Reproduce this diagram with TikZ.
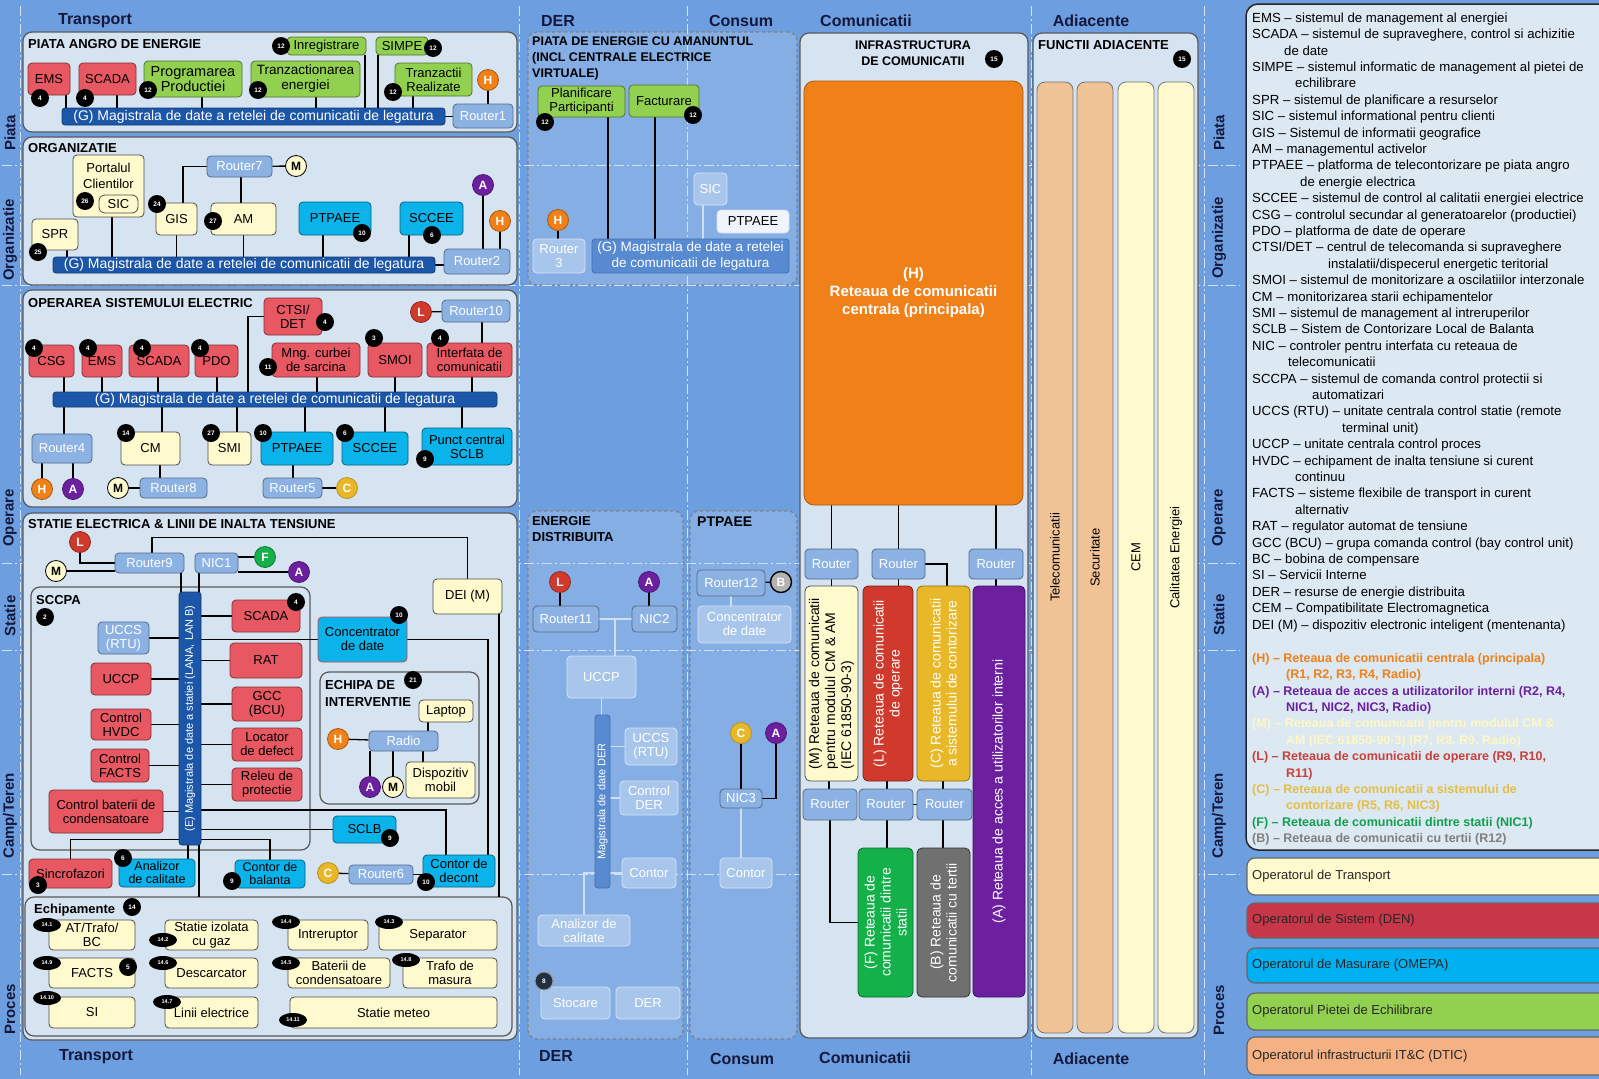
\documentclass[tikz,border=0pt]{standalone}
\usepackage{fontspec}
\setmainfont{Liberation Sans}
\usetikzlibrary{shapes.geometric}

\definecolor{cBg}{RGB}{108,158,224}
\definecolor{cPanel}{RGB}{214,227,240}
\definecolor{cMid}{RGB}{133,174,228}
\definecolor{cRed}{RGB}{232,88,98}
\definecolor{cGrn}{RGB}{146,208,80}
\definecolor{cCya}{RGB}{10,180,235}
\definecolor{cCrm}{RGB}{255,250,205}
\definecolor{cRtr}{RGB}{140,178,228}
\definecolor{cBus}{RGB}{28,86,168}
\definecolor{cMbus}{RGB}{88,138,210}
\definecolor{cFade}{RGB}{168,198,236}
\definecolor{cOrg}{RGB}{240,128,24}
\definecolor{cPur}{RGB}{108,32,160}
\definecolor{cLred}{RGB}{208,58,44}
\definecolor{cYel}{RGB}{232,184,40}
\definecolor{cFgrn}{RGB}{20,176,74}
\definecolor{cGray}{RGB}{112,112,112}
\definecolor{cPeach}{RGB}{240,195,150}
\definecolor{cLeg}{RGB}{220,232,242}
\definecolor{cHead}{RGB}{20,25,60}
\definecolor{cDen}{RGB}{200,54,74}
\definecolor{cOmepa}{RGB}{0,176,240}
\definecolor{cDtic}{RGB}{244,177,131}
\definecolor{lgM}{RGB}{255,248,196}
\definecolor{lgL}{RGB}{200,64,58}
\definecolor{lgC}{RGB}{228,190,70}
\definecolor{lgF}{RGB}{16,160,80}
\definecolor{lgB}{RGB}{128,128,128}

\pgfdeclarelayer{back}
\pgfdeclarelayer{wires}
\pgfsetlayers{back,wires,main}

\tikzset{
  sz/.style 2 args={minimum width=#1, minimum height=#2},
  panelbox/.style={draw=black!65, fill=cPanel, rounded corners=9pt, line width=1.2pt},
  dashbox/.style={draw=black!50, fill=cMid, dashed, rounded corners=9pt, line width=1.2pt},
  lane/.style={draw=white!70!cBg, line width=1pt, dash pattern=on 10pt off 3pt on 2pt off 3pt},
  blk/.style={draw, rounded corners=4pt, align=center, inner sep=1pt, line width=0.8pt,
    font=\fontsize{13}{14}\selectfont},
  redbox/.style={blk, fill=cRed, draw=cRed!55!black},
  grnbox/.style={blk, fill=cGrn, draw=cGrn!55!black},
  cyabox/.style={blk, fill=cCya, draw=cCya!55!black},
  crmbox/.style={blk, fill=cCrm, draw=black!70},
  rtrbox/.style={blk, fill=cRtr, draw=cRtr!60!black, text=white},
  fadebox/.style={blk, fill=cFade, draw=white!55!cFade, text=white},
  busbar/.style={draw=cBus!70!black, fill=cBus, text=white, rounded corners=3pt, inner sep=0pt,
    line width=0.8pt, align=center, font=\fontsize{14}{14}\selectfont},
  midbus/.style={busbar, fill=cMbus, draw=cMbus!80!black, font=\fontsize{13.5}{16}\selectfont},
  netbox/.style={blk, rotate=90, text=white, rounded corners=5pt, font=\fontsize{14}{16}\selectfont},
  colbox/.style={blk, rotate=90, draw=black!55, rounded corners=8pt, font=\fontsize{13}{13}\selectfont},
  badge/.style={circle, fill=black, text=white, inner sep=0pt, minimum size=18pt,
    font=\bfseries\fontsize{6.5}{6.5}\selectfont},
  ebadge/.style={ellipse, fill=black, text=white, inner sep=0pt, minimum width=28pt,
    minimum height=14pt, font=\bfseries\fontsize{5.5}{5.5}\selectfont},
  netc/.style={circle, inner sep=0pt, minimum size=21pt, line width=0.8pt, text=white,
    font=\bfseries\fontsize{12}{12}\selectfont},
  netH/.style={netc, fill=cOrg, draw=cOrg!70!black},
  netA/.style={netc, fill=cPur, draw=cPur!70!black},
  netM/.style={netc, fill=cCrm, draw=black, text=black},
  netL/.style={netc, fill=cLred, draw=cLred!70!black},
  netC/.style={netc, fill=cYel, draw=cYel!80!black},
  netF/.style={netc, fill=cFgrn, draw=cFgrn!70!black},
  netB/.style={netc, fill=black!30, draw=black, line width=1.4pt},
  ttl/.style={anchor=west, inner sep=0pt, align=left, font=\bfseries\fontsize{13}{16}\selectfont},
  txt/.style={inner sep=0pt, align=center, font=\fontsize{13}{16.5}\selectfont},
  head/.style={text=cHead, inner sep=0pt, font=\bfseries\fontsize{16}{16}\selectfont},
  rowlbl/.style={rotate=90, text=cHead, inner sep=0pt, font=\bfseries\fontsize{15}{15}\selectfont},
  legtxt/.style={anchor=north west, align=left, inner sep=0pt, font=\fontsize{13.2}{16.4}\selectfont},
  opbox/.style={draw=black!60, rounded corners=8pt, line width=1.2pt},
  optxt/.style={anchor=west, inner sep=0pt, text=black!85, font=\fontsize{13}{13}\selectfont},
  wire/.style={draw=black, line width=1.3pt},
  fwire/.style={draw=white!60!cMid, line width=1.3pt}
}

\begin{document}
\begin{tikzpicture}[x=1pt, y=-1pt]
  \useasboundingbox (0,0) rectangle (1599,1079);

  \begin{pgfonlayer}{back}
    \fill[cBg] (0,0) rectangle (1599,1079);
    \draw[dashbox] (528,32) rectangle (797,285);
    \draw[dashbox] (528,511) rectangle (683,1039);
    \draw[dashbox] (690,511) rectangle (797,1039);
    % benzi
    \draw[lane] (20,6) -- (20,1075);
    \draw[lane] (519,6) -- (519,1075);
    \draw[lane] (687,6) -- (687,1075);
    \draw[lane] (1031,6) -- (1031,1075);
    \draw[lane] (1204,6) -- (1204,1075);
    \draw[lane] (2,165) -- (1240,165);
    \draw[lane] (2,285) -- (1240,285);
    \draw[lane] (2,563) -- (1240,563);
    \draw[lane] (2,650) -- (1240,650);
    \draw[lane] (2,874) -- (1240,874);
    % panouri
    \draw[panelbox] (23,32) rectangle (517,132);
    \draw[panelbox] (23,137) rectangle (517,285);
    \draw[panelbox] (23,290) rectangle (517,507);
    \draw[panelbox] (23,513) rectangle (517,1040);
    \draw[panelbox] (31,587) rectangle (310,850);
    \draw[panelbox] (320,672) rectangle (479,804);
    \draw[panelbox] (25,897) rectangle (512,1036);
    \draw[panelbox] (800,33) rectangle (1028,1038);
    \draw[panelbox] (1033,33) rectangle (1198,1038);
    \draw[fill=cLeg, draw=black!85, line width=1.5pt, rounded corners=12pt] (1246,4) rectangle (1640,850);
    \draw[opbox, fill=cCrm] (1247,858) rectangle (1640,895);
    \draw[opbox, fill=cDen] (1247,903) rectangle (1640,938);
    \draw[opbox, fill=cOmepa] (1247,948) rectangle (1640,983);
    \draw[opbox, fill=cGrn] (1247,993) rectangle (1640,1030);
    \draw[opbox, fill=cDtic] (1247,1037) rectangle (1640,1075);
  \end{pgfonlayer}

  % titluri coloane si randuri
  \node[head] (hT1) at (95,21) {Transport};
  \node[head] (hD1) at (558,21) {DER};
  \node[head] (hC1) at (741,21) {Consum};
  \node[head] (hK1) at (866,21) {Comunicatii};
  \node[head] (hA1) at (1091,21) {Adiacente};
  \node[head] (hT2) at (96,1057) {Transport};
  \node[head] (hD2) at (556,1056) {DER};
  \node[head] (hC2) at (742,1059) {Consum};
  \node[head] (hK2) at (865,1058) {Comunicatii};
  \node[head] (hA2) at (1091,1059) {Adiacente};

  \node[rowlbl] (lr1) at (10,133) {Piata};
  \node[rowlbl] (lr2) at (10,240) {Organizatie};
  \node[rowlbl] (lr3) at (10,518) {Operare};
  \node[rowlbl] (lr4) at (10,616) {Statie};
  \node[rowlbl] (lr5) at (10,816) {Camp/Teren};
  \node[rowlbl] (lr6) at (10,1009) {Proces};
  \node[rowlbl] (rr1) at (1219,133) {Piata};
  \node[rowlbl] (rr2) at (1219,238) {Organizatie};
  \node[rowlbl] (rr3) at (1219,518) {Operare};
  \node[rowlbl] (rr4) at (1219,615) {Statie};
  \node[rowlbl] (rr5) at (1219,816) {Camp/Teren};
  \node[rowlbl] (rr6) at (1219,1010) {Proces};

  % piata angro
  \node[ttl] (tPiata) at (28,44) {PIATA ANGRO DE ENERGIE};
  \node[redbox, sz={42}{32}] (ems1) at (49,79) {EMS};
  \node[redbox, sz={57}{32}] (scada1) at (107.5,79) {SCADA};
  \node[grnbox, sz={98}{36}, font=\fontsize{14.5}{15.5}\selectfont] (prog) at (193,79) {Programarea\\Productiei};
  \node[grnbox, sz={109}{36}, font=\fontsize{13.5}{15}\selectfont] (tranz) at (305.5,79) {Tranzactionarea\\energiei};
  \node[grnbox, sz={79}{18}] (inreg) at (326.5,46) {Inregistrare};
  \node[grnbox, sz={52}{18}] (simpe) at (402,46) {SIMPE};
  \node[grnbox, sz={77}{33}] (tranzr) at (433.5,79.5) {Tranzactii\\Realizate};
  \node[busbar, sz={383}{17}] (bus1) at (253.5,116.5) {(G) Magistrala de date a retelei de comunicatii de legatura};
  \node[rtrbox, sz={60}{24}] (r1) at (483,116) {Router1};
  \node[netH] (h1) at (488,80) {H};
  \node[badge] (b1) at (40,98) {4};
  \node[badge] (b2) at (85,98) {4};
  \node[badge] (b3) at (148,90) {12};
  \node[badge] (b4) at (258,90) {12};
  \node[badge] (b5) at (281,46) {12};
  \node[badge] (b6) at (433,48) {12};
  \node[badge] (b7) at (393,92) {12};

  % organizatie
  \node[ttl] (tOrg) at (28,148) {ORGANIZATIE};
  \node[crmbox, sz={71}{62}] (portal) at (108.5,186) {};
  \node[txt] (tPortal) at (108.5,176) {Portalul\\Clientilor};
  \node[crmbox, sz={39}{18}, rounded corners=6pt] (sic1) at (118.5,204) {SIC};
  \node[crmbox, sz={46}{31}] (spr) at (55,234.5) {SPR};
  \node[rtrbox, sz={65}{21}] (r7) at (239.5,166.5) {Router7};
  \node[netM] (m1) at (296,166) {M};
  \node[crmbox, sz={41}{32}] (gis) at (176.5,219) {GIS};
  \node[crmbox, sz={65}{32}] (am) at (243.5,219) {AM};
  \node[cyabox, sz={72}{33}] (ptp1) at (335,218.5) {PTPAEE};
  \node[cyabox, sz={63}{33}] (scc1) at (431.5,218.5) {SCCEE};
  \node[netA] (a1) at (483,185) {A};
  \node[netH] (h2) at (500,221) {H};
  \node[busbar, sz={382}{16}] (bus2) at (244,265) {(G) Magistrala de date a retelei de comunicatii de legatura};
  \node[rtrbox, sz={66}{25}] (r2) at (477,261.5) {Router2};
  \node[badge] (b8) at (85,201) {26};
  \node[badge] (b9) at (38,252) {25};
  \node[badge] (b10) at (157,204) {24};
  \node[badge] (b11) at (213,221) {27};
  \node[badge] (b12) at (362,233) {10};
  \node[badge] (b13) at (432,235) {6};

  % operare
  \node[ttl] (tOp) at (28,303) {OPERAREA SISTEMULUI ELECTRIC};
  \node[redbox, sz={58}{37}] (ctsi) at (293,316.5) {CTSI/\\DET};
  \node[netL] (l1) at (421,312) {L};
  \node[rtrbox, sz={68}{22}] (r10) at (476,311) {Router10};
  \node[redbox, sz={45}{32}] (csg) at (51.5,361) {CSG};
  \node[redbox, sz={40}{32}] (ems2) at (102,361) {EMS};
  \node[redbox, sz={60}{32}] (scada2) at (159,361) {SCADA};
  \node[redbox, sz={43}{32}] (pdo) at (216.5,361) {PDO};
  \node[redbox, sz={88}{34}] (mng) at (316,360) {Mng. curbei\\de sarcina};
  \node[redbox, sz={54}{34}] (smoi) at (395,360) {SMOI};
  \node[redbox, sz={85}{34}] (intf) at (469.5,360) {Interfata de\\comunicatii};
  \node[busbar, sz={444}{15}] (bus3) at (275,399.5) {(G) Magistrala de date a retelei de comunicatii de legatura};
  \node[rtrbox, sz={60}{29}] (r4) at (62,448.5) {Router4};
  \node[netH] (h3) at (42,489) {H};
  \node[netA] (a2) at (73,489) {A};
  \node[crmbox, sz={59}{33}] (cm) at (150.5,448.5) {CM};
  \node[crmbox, sz={43}{33}] (smi) at (229.5,448.5) {SMI};
  \node[cyabox, sz={72}{33}] (ptp2) at (297,448.5) {PTPAEE};
  \node[cyabox, sz={66}{33}] (scc2) at (375,448.5) {SCCEE};
  \node[cyabox, sz={90}{37}] (sclb1) at (467,446.5) {Punct central\\SCLB};
  \node[netM] (m2) at (118,488) {M};
  \node[rtrbox, sz={67}{20}] (r8) at (173.5,488) {Router8};
  \node[rtrbox, sz={59}{20}] (r5) at (292.5,488) {Router5};
  \node[netC] (c1) at (347,488) {C};
  \node[badge] (b14) at (325,322) {4};
  \node[badge] (b15) at (34,348) {4};
  \node[badge] (b16) at (88,348) {4};
  \node[badge] (b17) at (142,348) {4};
  \node[badge] (b18) at (200,348) {4};
  \node[badge] (b19) at (268,367) {11};
  \node[badge] (b20) at (374,338) {3};
  \node[badge] (b21) at (440,338) {4};
  \node[badge] (b22) at (126,433) {14};
  \node[badge] (b23) at (211,433) {27};
  \node[badge] (b24) at (263,433) {10};
  \node[badge] (b25) at (345,433) {6};
  \node[badge] (b26) at (425,459) {9};

  % statie
  \node[ttl] (tSt) at (28,524) {STATIE ELECTRICA \& LINII DE INALTA TENSIUNE};
  \node[netL] (l2) at (80,542) {L};
  \node[rtrbox, sz={69}{20}] (r9) at (149.5,563) {Router9};
  \node[netM] (m3) at (56,571) {M};
  \node[rtrbox, sz={43}{20}] (nic1) at (216.5,563) {NIC1};
  \node[netF] (f1) at (265,557) {F};
  \node[netA] (a3) at (299,572) {A};
  \node[crmbox, sz={69}{35}] (dei) at (467.5,596.5) {DEI (M)};
  \node[ttl] (tSccpa) at (36,600) {SCCPA};
  \node[busbar, rotate=90, sz={253}{22}, font=\fontsize{11}{11}\selectfont] (busE) at (190,718.5) {(E) Magistrala de date a statiei (LANA, LAN B)};
  \node[rtrbox, sz={51}{32}] (uccs) at (123.5,638) {UCCS\\(RTU)};
  \node[redbox, sz={60}{32}] (uccp) at (121,679) {UCCP};
  \node[redbox, sz={60}{31}] (hvdc) at (121,724.5) {Control\\HVDC};
  \node[redbox, sz={58}{33}] (facts1) at (120,765.5) {Control\\FACTS};
  \node[redbox, sz={114}{43}] (cbat) at (106,811.5) {Control baterii de\\condensatoare};
  \node[redbox, sz={68}{32}] (scada3) at (266,616) {SCADA};
  \node[redbox, sz={72}{35}] (rat) at (266,660.5) {RAT};
  \node[redbox, sz={70}{34}] (gcc) at (267,704) {GCC\\(BCU)};
  \node[redbox, sz={70}{33}] (loc) at (267,744.5) {Locator\\de defect};
  \node[redbox, sz={70}{33}] (releu) at (267,784.5) {Releu de\\protectie};
  \node[cyabox, sz={89}{45}, draw=cRed!85!black] (conc) at (362.5,639.5) {Concentrator\\de date};
  \node[ttl, font=\bfseries\fontsize{13}{17}\selectfont] (tEchipa) at (325,693.5) {ECHIPA DE\\INTERVENTIE};
  \node[crmbox, sz={54}{22}] (laptop) at (446,711) {Laptop};
  \node[rtrbox, sz={69}{20}] (radio) at (403.5,741) {Radio};
  \node[netH] (h4) at (338,739) {H};
  \node[netA] (a4) at (370,787) {A};
  \node[netM] (m4) at (393,787) {M};
  \node[crmbox, sz={69}{36}] (disp) at (440.5,780) {Dispozitiv\\mobil};
  \node[cyabox, sz={63}{27}] (sclb2) at (364.5,829.5) {SCLB};
  \node[redbox, sz={83}{29}] (sincro) at (70.5,873.5) {Sincrofazori};
  \node[cyabox, sz={76}{28}, font=\fontsize{12.5}{13}\selectfont] (aqual) at (157,873) {Analizor\\de calitate};
  \node[cyabox, sz={70}{28}, font=\fontsize{12.5}{13}\selectfont] (cbal) at (270,874) {Contor de\\balanta};
  \node[netC] (c2) at (328,873) {C};
  \node[rtrbox, sz={64}{19}] (r6) at (381,874.5) {Router6};
  \node[cyabox, sz={72}{32}] (cdec) at (459,871) {Contor de\\decont};
  \node[badge] (b27) at (45,617) {2};
  \node[badge] (b28) at (296,602) {4};
  \node[badge] (b29) at (399,615) {10};
  \node[badge] (b30) at (413,680) {21};
  \node[badge] (b31) at (390,838) {9};
  \node[badge] (b32) at (38,885) {3};
  \node[badge] (b33) at (123,858) {6};
  \node[badge] (b34) at (232,881) {9};
  \node[badge] (b35) at (426,882) {10};

  % echipamente
  \coordinate (echtop) at (0,897);
  \node[ttl] (tEch) at (34,910) {Echipamente};
  \node[crmbox, sz={86}{30}] (eq1) at (92,935) {AT/Trafo/\\BC};
  \node[crmbox, sz={93}{30}] (eq2) at (211.5,935) {Statie izolata\\cu gaz};
  \node[crmbox, sz={80}{30}] (eq4) at (328,935) {Intreruptor};
  \node[crmbox, sz={118}{30}] (eq3) at (438,935) {Separator};
  \node[crmbox, sz={86}{30}] (eq9) at (92,973) {FACTS};
  \node[crmbox, sz={93}{30}] (eq6) at (211.5,973) {Descarcator};
  \node[crmbox, sz={102}{30}] (eq5) at (339,973) {Baterii de\\condensatoare};
  \node[crmbox, sz={94}{30}] (eq8) at (450,973) {Trafo de\\masura};
  \node[crmbox, sz={86}{31}] (eq10) at (92,1012.5) {SI};
  \node[crmbox, sz={93}{31}] (eq7) at (211.5,1012.5) {Linii electrice};
  \node[crmbox, sz={207}{31}] (eq11) at (393.5,1012.5) {Statie meteo};
  \node[badge] (b36) at (132,907) {14};
  \node[badge] (b37) at (128,967) {5};
  \node[ebadge] (e1) at (47,925) {14.1};
  \node[ebadge] (e2) at (163,940) {14.2};
  \node[ebadge] (e4) at (286,922) {14.4};
  \node[ebadge] (e3) at (389,922) {14.3};
  \node[ebadge] (e9) at (47,963) {14.9};
  \node[ebadge] (e6) at (163,963) {14.6};
  \node[ebadge] (e5) at (286,963) {14.5};
  \node[ebadge] (e8) at (406,960) {14.8};
  \node[ebadge] (e10) at (47,998) {14.10};
  \node[ebadge] (e7) at (167,1002) {14.7};
  \node[ebadge] (e11) at (293,1020) {14.11};

  % piata cu amanuntul
  \node[ttl, anchor=north west, font=\bfseries\fontsize{12.5}{16}\selectfont] (tRet) at (532,37) {PIATA DE ENERGIE CU AMANUNTUL\\(INCL CENTRALE ELECTRICE\\VIRTUALE)};
  \node[grnbox, sz={87}{31}] (plan) at (581.5,101.5) {Planificare\\Participanti};
  \node[grnbox, sz={70}{32}] (fact) at (664,101) {Facturare};
  \node[fadebox, sz={33}{32}] (sic2) at (710.5,189) {SIC};
  \node[blk, fill=white!88!cMid, draw=white!60!cMid, sz={72}{23}] (ptp3) at (753,221.5) {PTPAEE};
  \node[netH] (h5) at (558,220) {H};
  \node[fadebox, sz={52}{34}] (r3) at (559,256) {Router\\3};
  \node[midbus, sz={197}{34}] (bus4) at (690.5,256) {(G) Magistrala de date a retelei\\de comunicatii de legatura};
  \node[badge] (b38) at (545,122) {12};
  \node[badge] (b39) at (693,115) {12};

  % energie distribuita
  \node[ttl, anchor=north west] (tDer) at (532,516) {ENERGIE\\DISTRIBUITA};
  \node[ttl, font=\bfseries\fontsize{14}{14}\selectfont] (tPtp) at (697,522) {PTPAEE};
  \node[netL] (l3) at (560,582) {L};
  \node[netA] (a5) at (649,582) {A};
  \node[rtrbox, sz={66}{26}] (r11) at (566,619) {Router11};
  \node[rtrbox, sz={45}{26}] (nic2) at (654.5,619) {NIC2};
  \node[fadebox, sz={69}{42}] (uccp2) at (601.5,677) {UCCP};
  \node[midbus, rotate=90, sz={173}{15}, font=\fontsize{11}{11}\selectfont] (busD) at (602.5,801.5) {Magistrala de date DER};
  \node[fadebox, sz={52}{37}] (uccs2) at (651,746.5) {UCCS\\(RTU)};
  \node[fadebox, sz={58}{34}] (cder) at (649,798) {Control\\DER};
  \node[fadebox, sz={54}{30}] (cont1) at (649,873) {Contor};
  \node[fadebox, sz={92}{31}] (aq2) at (584,930.5) {Analizor de\\calitate};
  \node[fadebox, sz={69}{32}] (stoc) at (575.5,1003) {Stocare};
  \node[fadebox, sz={64}{32}] (der) at (648,1003) {DER};
  \node[badge, fill=black!70!cBg, draw=black!40, line width=1pt] (b40) at (544,981) {8};
  \node[rtrbox, sz={68}{26}] (r12) at (731,583) {Router12};
  \node[netB] (bb) at (781,582) {B};
  \node[fadebox, sz={93}{37}] (conc2) at (744.5,624.5) {Concentrator\\de date};
  \node[netC] (c3) at (741,733) {C};
  \node[netA] (a6) at (776,733) {A};
  \node[rtrbox, sz={42}{19}] (nic3) at (741,798.5) {NIC3};
  \node[fadebox, sz={52}{30}] (cont2) at (746,873) {Contor};

  % infrastructura de comunicatii
  \node[ttl, anchor=center, align=center, font=\bfseries\fontsize{12.5}{16}\selectfont] (tInfra) at (913,53) {INFRASTRUCTURA\\DE COMUNICATII};
  \node[badge] (b41) at (994,59) {15};
  \node[blk, fill=cOrg, draw=cOrg!70!black, text=white, sz={219}{424}, rounded corners=10pt,
    font=\bfseries\fontsize{15}{18}\selectfont] (hnet) at (913.5,293) {(H)\\Reteaua de comunicatii\\centrala (principala)};
  \node[rtrbox, sz={53}{30}] (ra) at (831.5,564) {Router};
  \node[rtrbox, sz={53}{30}] (rb) at (898.5,564) {Router};
  \node[rtrbox, sz={54}{30}] (rc) at (996,564) {Router};
  \node[netbox, fill=cCrm, draw=black!70, text=black, align=left, sz={195}{53}] (mnet) at (831.5,683.5) {(M) Reteaua de comunicatii\\pentru modulul CM \& AM\\(IEC 61850-90-3)};
  \node[netbox, fill=cLred, draw=cLred!60!black, sz={195}{50}] (lnet) at (888,683.5) {(L) Reteaua de comunicatii\\de operare};
  \node[netbox, fill=cYel, draw=cYel!60!black, sz={195}{53}] (cnet) at (943.5,683.5) {(C) Reteaua de comunicatii\\a sistemului de contorizare};
  \node[netbox, fill=cPur, draw=cPur!60!black, sz={411}{52}] (anet) at (999,791.5) {(A) Reteaua de acces a utilizatorilor interni};
  \node[rtrbox, sz={54}{31}] (rd) at (830,804.5) {Router};
  \node[rtrbox, sz={54}{31}] (re) at (886,804.5) {Router};
  \node[rtrbox, sz={55}{31}] (rf) at (944.5,804.5) {Router};
  \node[netbox, fill=cFgrn, draw=cFgrn!60!black, sz={149}{55}] (fnet) at (885.5,922.5) {(F) Reteaua de\\comunicatii dintre\\statii};
  \node[netbox, fill=cGray, draw=black!80, sz={149}{53}] (bnet) at (943.5,922.5) {(B) Reteaua de\\comunicatii cu tertii};

  % functii adiacente
  \node[ttl] (tAdj) at (1038,45) {FUNCTII ADIACENTE};
  \node[badge] (b42) at (1182,59) {15};
  \node[colbox, fill=cPeach, sz={951}{36}] (col1) at (1055,557.5) {Telecomunicatii};
  \node[colbox, fill=cPeach, sz={951}{36}] (col2) at (1095,557.5) {Securitate};
  \node[colbox, fill=cCrm, sz={951}{36}] (col3) at (1136,557.5) {CEM};
  \node[colbox, fill=cCrm, sz={951}{36}] (col4) at (1176,557.5) {Calitatea Energiei};

  % legenda
  \node[legtxt] (leg1) at (1252,12.5) {EMS -- sistemul de management al energiei\\
SCADA -- sistemul de supraveghere, control si achizitie\\
\hspace*{32pt}de date\\
SIMPE -- sistemul informatic de management al pietei de\\
\hspace*{43pt}echilibrare\\
SPR -- sistemul de planificare a resurselor\\
SIC -- sistemul informational pentru clienti\\
GIS -- Sistemul de informatii geografice\\
AM -- managementul activelor\\
PTPAEE -- platforma de telecontorizare pe piata angro\\
\hspace*{48pt}de energie electrica\\
SCCEE -- sistemul de control al calitatii energiei electrice\\
CSG -- controlul secundar al generatoarelor (productiei)\\
PDO -- platforma de date de operare\\
CTSI/DET -- centrul de telecomanda si supraveghere\\
\hspace*{76pt}instalatii/dispecerul energetic teritorial\\
SMOI -- sistemul de monitorizare a oscilatiilor interzonale\\
CM -- monitorizarea starii echipamentelor\\
SMI -- sistemul de management al intreruperilor\\
SCLB -- Sistem de Contorizare Local de Balanta\\
NIC -- controler pentru interfata cu reteaua de\\
\hspace*{36pt}telecomunicatii\\
SCCPA -- sistemul de comanda control protectii si\\
\hspace*{60pt}automatizari\\
UCCS (RTU) -- unitate centrala control statie (remote\\
\hspace*{90pt}terminal unit)\\
UCCP -- unitate centrala control proces\\
HVDC -- echipament de inalta tensiune si curent\\
\hspace*{43pt}continuu\\
FACTS -- sisteme flexibile de transport in curent\\
\hspace*{43pt}alternativ\\
RAT -- regulator automat de tensiune\\
GCC (BCU) -- grupa comanda control (bay control unit)\\
BC -- bobina de compensare\\
SI -- Servicii Interne\\
DER -- resurse de energie distribuita\\
CEM -- Compatibilitate Electromagnetica\\
DEI (M) -- dispozitiv electronic inteligent (mentenanta)};
  \node[legtxt, font=\bfseries\fontsize{12.5}{16.4}\selectfont] (leg2) at (1252,653) {\textcolor{cOrg}{(H) -- Reteaua de comunicatii centrala (principala)}\\
\textcolor{cOrg}{\hspace*{34pt}(R1, R2, R3, R4, Radio)}\\
\textcolor{cPur}{(A) -- Reteaua de acces a utilizatorilor interni (R2, R4,}\\
\textcolor{cPur}{\hspace*{34pt}NIC1, NIC2, NIC3, Radio)}\\
\textcolor{lgM}{(M) -- Reteaua de comunicatii pentru modulul CM \&}\\
\textcolor{lgM}{\hspace*{34pt}AM (IEC 61850-90-3) (R7, R8, R9, Radio)}\\
\textcolor{lgL}{(L) -- Reteaua de comunicatii de operare (R9, R10,}\\
\textcolor{lgL}{\hspace*{34pt}R11)}\\
\textcolor{lgC}{(C) -- Reteaua de comunicatii a sistemului de}\\
\textcolor{lgC}{\hspace*{34pt}contorizare (R5, R6, NIC3)}\\
\textcolor{lgF}{(F) -- Reteaua de comunicatii dintre statii (NIC1)}\\
\textcolor{lgB}{(B) -- Reteaua de comunicatii cu tertii (R12)}};
  \node[optxt] (op1) at (1252,876.5) {Operatorul de Transport};
  \node[optxt] (op2) at (1252,920.5) {Operatorul de Sistem (DEN)};
  \node[optxt] (op3) at (1252,965.5) {Operatorul de Masurare (OMEPA)};
  \node[optxt] (op4) at (1252,1011.5) {Operatorul Pietei de Echilibrare};
  \node[optxt] (op5) at (1252,1056) {Operatorul infrastructurii IT\&C (DTIC)};

  % legaturi
  \begin{pgfonlayer}{wires}
    \draw[wire] (66,0 |- ems1.south) -- (66,0 |- bus1.center);
    \draw[wire] (117,0 |- scada1.south) -- (117,0 |- bus1.center);
    \draw[wire] (202,0 |- prog.south) -- (202,0 |- bus1.center);
    \draw[wire] (316,0 |- tranz.south) -- (316,0 |- bus1.center);
    \draw[wire] (365,0 |- inreg.south) -- (365,0 |- bus1.center);
    \draw[wire] (378,0 |- simpe.south) -- (378,0 |- bus1.center);
    \draw[wire] (413,0 |- tranzr.south) -- (413,0 |- bus1.center);
    \draw[wire] (bus1.east) -- (bus1.east -| r1.west);
    \draw[wire] (h1) -- (h1 |- r1.north);

    \draw[wire] (67,0 |- spr.south) -- (67,0 |- bus2.center);
    \draw[wire] (112,0 |- portal.south) -- (112,0 |- bus2.center);
    \draw[wire] (gis.south) -- (gis.south |- bus2.center);
    \draw[wire] (am.south) -- (am.south |- bus2.center);
    \draw[wire] (323,0 |- ptp1.south) -- (323,0 |- bus2.center);
    \draw[wire] (409,0 |- scc1.south) -- (409,0 |- bus2.center);
    \draw[wire] (r7.west) -| (183,0 |- gis.north);
    \draw[wire] (241,0 |- r7.south) -- (241,0 |- am.north);
    \draw[wire] (r7) -- (m1);
    \draw[wire] (a1) -- (a1 |- r2.north);
    \draw[wire] (h2) -- (h2 |- r2.north);
    \draw[wire] (bus2.east) -- (bus2.east -| r2.west);

    \draw[wire] (64,0 |- csg.south) -- (64,0 |- bus3.center);
    \draw[wire] (ems2.south) -- (ems2.south |- bus3.center);
    \draw[wire] (158,0 |- scada2.south) -- (158,0 |- bus3.center);
    \draw[wire] (217,0 |- pdo.south) -- (217,0 |- bus3.center);
    \draw[wire] (ctsi.west) -| (248,0 |- bus3.center);
    \draw[wire] (317,0 |- mng.south) -- (317,0 |- bus3.center);
    \draw[wire] (smoi.south) -- (smoi.south |- bus3.center);
    \draw[wire] (472,0 |- intf.south) -- (472,0 |- bus3.center);
    \draw[wire] (482,0 |- r10.south) -- (482,0 |- intf.north);
    \draw[wire] (l1) -- (r10);
    \draw[wire] (64,0 |- r4.north) -- (64,0 |- bus3.center);
    \draw[wire] (162,0 |- cm.north) -- (162,0 |- bus3.center);
    \draw[wire] (237,0 |- smi.north) -- (237,0 |- bus3.center);
    \draw[wire] (305,0 |- ptp2.north) -- (305,0 |- bus3.center);
    \draw[wire] (385,0 |- scc2.north) -- (385,0 |- bus3.center);
    \draw[wire] (462,0 |- sclb1.north) -- (462,0 |- bus3.center);
    \draw[wire] (h3) -- (h3 |- r4.south);
    \draw[wire] (a2) -- (a2 |- r4.south);
    \draw[wire] (160,0 |- cm.south) -- (160,0 |- r8.north);
    \draw[wire] (m2) -- (r8);
    \draw[wire] (293,0 |- ptp2.south) -- (293,0 |- r5.north);
    \draw[wire] (r5) -- (c1);

    \draw[wire] (l2) |- (r9.west);
    \draw[wire] (m3) -- (m3 -| r9.west);
    \draw[wire] (152,0 |- r9.north) -- ++(0,-15) -| (dei.north);
    \draw[wire] (181,0 |- r9.south) -- (181,0 |- busE.center);
    \draw[wire] (199,0 |- nic1.south) -- (199,0 |- busE.center);
    \draw[wire] (nic1.east |- f1) -- (f1);
    \draw[wire] (nic1.east |- a3) -- (a3);
    \draw[wire] (uccs.east) -- (uccs.east -| busE.center);
    \draw[wire] (uccp.east) -- (uccp.east -| busE.center);
    \draw[wire] (hvdc.east) -- (hvdc.east -| busE.center);
    \draw[wire] (facts1.east) -- (facts1.east -| busE.center);
    \draw[wire] (cbat.east) -- (cbat.east -| busE.center);
    \draw[wire] (scada3.west) -- (scada3.west -| busE.center);
    \draw[wire] (rat.west) -- (rat.west -| busE.center);
    \draw[wire] (gcc.west) -- (gcc.west -| busE.center);
    \draw[wire] (loc.west) -- (loc.west -| busE.center);
    \draw[wire] (releu.west) -- (releu.west -| busE.center);
    \draw[wire] (conc.west) -- (conc.west -| busE.center);
    \draw[wire] (conc.east) -| ([xshift=29pt]cdec.north);
    \draw[wire] (busE.center |- 0,810) -| ([xshift=-13pt]cdec.north);
    \draw[wire] (sclb2.west) -- (sclb2.west -| busE.center);
    \draw[wire] (499,0 |- dei.south) -- (499,0 |- echtop);
    \draw[wire] (199,0 |- busE.center) -- (199,0 |- echtop);
    \draw[wire] (188,0 |- busE.center) -- (188,0 |- aqual.north);
    \draw[wire] (sincro.north) -- ++(0,-19) -| (cbal.north);
    \draw[wire] (c2) -- (r6);
    \draw[wire] (r6) -- (r6 -| cdec.west);
    \draw[wire] (h4) -- (radio);
    \draw[wire] (a4 |- radio.south) -- (a4);
    \draw[wire] (m4 |- radio.south) -- (m4);
    \draw[wire] (423,0 |- radio.south) -- (423,0 |- disp.north);
    \draw[wire] (428,0 |- laptop.south) -- (428,0 |- radio.north);

    \draw[wire] (608,0 |- plan.south) -- (608,0 |- bus4.center);
    \draw[wire] (655,0 |- fact.south) -- (655,0 |- bus4.center);
    \draw[fwire] (703,0 |- sic2.south) -- (703,0 |- bus4.center);
    \draw[wire] (h5) -- (h5 |- r3.north);

    \draw[wire] (l3) -- (l3 |- r11.north);
    \draw[wire] (a5) -- (a5 |- nic2.north);
    \draw[fwire] (r11) -- (nic2);
    \draw[fwire] (615,0 |- r11.center) -- (615,0 |- uccp2.north);
    \draw[fwire] (uccp2.center) -- (uccp2.center |- busD.center);
    \draw[fwire] (uccs2.west) -- (uccs2.west -| busD.center);
    \draw[fwire] (cder.west) -- (cder.west -| busD.center);
    \draw[fwire] (cont1.west) -- (cont1.west -| busD.center);
    \draw[fwire] (aq2.north) |- (cont1.west);
    \draw[wire] (r12) -- (bb);
    \draw[fwire] (r12) -- (r12 |- conc2.north);
    \draw[wire] (c3) -- (c3 |- nic3.north);
    \draw[wire] (a6) |- (nic3.east);
    \draw[fwire] (741,0 |- nic3.south) -- (741,0 |- cont2.north);

    \draw[wire] (ra.north |- hnet.south) -- (ra.north);
    \draw[wire] (rb.north |- hnet.south) -- (rb.north);
    \draw[wire] (rc.north |- hnet.south) -- (rc.north);
    \draw[wire] (ra.south) -- (ra.south |- mnet.center);
    \draw[wire] (rb.south) -- (rb.south |- lnet.center);
    \draw[wire] (rb.east) -| (947,0 |- cnet.center);
    \draw[wire] (rc.south) -- (rc.south |- anet.center);
    \draw[wire] (829,0 |- mnet.center) -- (829,0 |- rd.center);
    \draw[wire] (887,0 |- lnet.center) -- (887,0 |- re.center);
    \draw[wire] (943,0 |- cnet.center) -- (943,0 |- rf.center);
    \draw[wire] (re) -- (rf);
    \draw[wire] (rd.center) |- (fnet.center);
    \draw[wire] (887,0 |- re.center) -- (887,0 |- fnet.center);
    \draw[wire] (943,0 |- rf.center) -- (943,0 |- bnet.center);
  \end{pgfonlayer}
\end{tikzpicture}
\end{document}
